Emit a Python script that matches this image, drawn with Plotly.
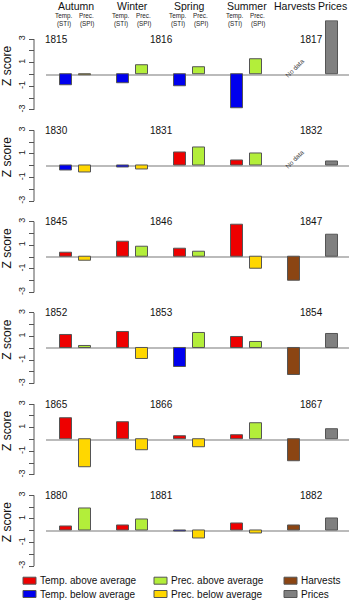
import plotly.graph_objects as go

# Erste Jahre der sechs Krisen (jede Zeile: Jahr, Jahr+1, Jahr+2)
start_years = [1815, 1830, 1845, 1852, 1865, 1880]

seasons = ["Autumn", "Winter", "Spring", "Summer"]

# Z-Werte je Jahreszeit, eine Zahl pro Zeile
autumn_temp = [-0.89, -0.42, 0.40, 1.10, 1.83, 0.37]
autumn_prec = [-0.05, -0.56, -0.34, 0.17, -2.37, 1.85]
winter_temp = [-0.75, -0.17, 1.27, 1.41, 1.49, 0.49]
winter_prec = [0.75, -0.31, 0.91, -0.90, -0.88, 0.94]
spring_temp = [-1.03, 1.13, 0.68, -1.58, 0.31, -0.03]
spring_prec = [0.58, 1.58, 0.48, 1.27, -0.68, -0.68]
summer_temp = [-2.86, 0.48, 2.77, 0.93, 0.37, 0.63]
summer_prec = [1.28, 1.08, -0.96, 0.56, 1.35, -0.26]
harvests = [None, None, -2.00, -2.28, -1.86, 0.46]
prices = [4.55, 0.37, 1.87, 1.24, 0.85, 1.02]

legend_labels = ["Temp. above average", "Prec. above average", "Harvests",
                 "Temp. below average", "Prec. below average", "Prices"]

RED, BLUE, GREEN, GOLD = "#EE0000", "#0000EE", "#B3EE3A", "#FFD700"
BROWN, GREY = "#8B4513", "#808080"
legend_colors = [RED, GREEN, BROWN, BLUE, GOLD, GREY]

W, H = 349, 600
FONT = "Arial, Liberation Sans, sans-serif"
u = 11.8            # Pixel pro Z-Einheit
y_lo, y_hi = -3.15, 4.6
px_slot = 19        # Pixel pro Balkenplatz
x0_px, plot_left_px, axis_px = 66, 46, 34
x_rng = [-(x0_px - plot_left_px) / px_slot, (W - x0_px) / px_slot]

temp_rows = [autumn_temp, winter_temp, spring_temp, summer_temp]
prec_rows = [autumn_prec, winter_prec, spring_prec, summer_prec]

fig = go.Figure()
layout = {}
annotations = []
shapes = []

for k, year in enumerate(start_years):
    n = "" if k == 0 else str(k + 1)
    xs, ys, cols = [], [], []
    for s in range(4):
        t = temp_rows[s][k]
        p = prec_rows[s][k]
        xs += [3 * s, 3 * s + 1]
        ys += [t, p]
        cols += [RED if t >= 0 else BLUE, GREEN if p >= 0 else GOLD]
    xs += [12, 14]
    ys += [harvests[k], prices[k]]
    cols += [BROWN, GREY]

    fig.add_trace(go.Bar(
        x=xs, y=ys, width=0.63, marker=dict(color=cols, line=dict(color="#555555", width=1)),
        xaxis="x" + n, yaxis="y" + n, showlegend=False, hoverinfo="skip"))

    z = 74.5 + 91.25 * k
    top = z - y_hi * u
    bot = z - y_lo * u
    layout["xaxis" + n] = dict(domain=[plot_left_px / W, 1], range=x_rng, visible=False,
                               anchor="y" + n, fixedrange=True)
    layout["yaxis" + n] = dict(
        domain=[1 - bot / H, 1 - top / H], range=[y_lo, y_hi], anchor="free",
        position=axis_px / W, showgrid=False, showline=False,
        zeroline=True, zerolinecolor="#BBBBBB", zerolinewidth=1.5,
        tickvals=[-3, -2, -1, 0, 1, 2, 3], ticktext=["-3", "", "-1", "", "1", "", "3"],
        ticks="outside", ticklen=5, tickcolor="#555555", tickangle=-90,
        tickfont=dict(size=9, color="#222222", family=FONT),
        title=dict(text="Z score", font=dict(size=12, color="#111111", family=FONT), standoff=3),
        fixedrange=True)
    shapes.append(dict(type="line", xref="paper", yref="y" + n, x0=axis_px / W, x1=axis_px / W,
                       y0=-3, y1=3, line=dict(color="#555555", width=1)))

    for yr, xpos in zip([year, year + 1, year + 2], [-0.5, 5.0, 12.9]):
        annotations.append(dict(text=str(yr), x=xpos, y=3, xref="x" + n, yref="y" + n,
                                showarrow=False, yanchor="middle",
                                font=dict(size=10, color="#111111", family=FONT)))
    if harvests[k] is None:
        annotations.append(dict(text="No data", x=12, y=0.55, xref="x" + n, yref="y" + n,
                                showarrow=False, textangle=-45, yanchor="middle",
                                font=dict(size=6.5, color="#333333", family=FONT)))

# Kopfzeile
head = dict(xref="x", yref="paper", showarrow=False, xanchor="center", yanchor="middle",
            borderpad=0)
big = dict(size=10.5, color="#111111", family=FONT)
small = dict(size=6.3, color="#222222", family=FONT)
for s, name in enumerate(seasons):
    annotations.append(dict(text=name, x=3 * s + 0.5, y=1 - 6 / H, font=big, **head))
    for dx, top_line, bottom_line in [(-0.13, "Temp.", "(STI)"), (1.08, "Prec.", "(SPI)")]:
        annotations.append(dict(text=top_line, x=3 * s + dx, y=1 - 15.8 / H, font=small, **head))
        annotations.append(dict(text=bottom_line, x=3 * s + dx, y=1 - 23.5 / H, font=small, **head))
annotations.append(dict(text="Harvests", x=12, y=1 - 6 / H, font=big, **head))
annotations.append(dict(text="Prices", x=14, y=1 - 6 / H, font=big, **head))

# Legende unten
col_px = [23, 154, 284]
row_px = [580.7, 594]
for i, (lab, col) in enumerate(zip(legend_labels, legend_colors)):
    cx = col_px[i % 3]
    ry = row_px[i // 3]
    shapes.append(dict(type="rect", xref="paper", yref="paper",
                       x0=cx / W, x1=(cx + 13) / W, y0=1 - (ry + 3.5) / H, y1=1 - (ry - 3.5) / H,
                       fillcolor=col, line=dict(color="#555555", width=1)))
    annotations.append(dict(text=lab, x=(cx + 16) / W, y=1 - ry / H, xref="paper", yref="paper",
                            xanchor="left", yanchor="middle", showarrow=False, borderpad=0,
                            font=dict(size=10, color="#111111", family=FONT)))

fig.update_layout(
    width=W, height=H, margin=dict(l=0, r=0, t=0, b=0),
    paper_bgcolor="white", plot_bgcolor="white",
    bargap=0, annotations=annotations, shapes=shapes, showlegend=False,
    font=dict(family=FONT), **layout)

# Seitenrand des Browsers entfernen, damit die Grafik bei (0, 0) beginnt
fig.write_html("out.html", config={"displayModeBar": False},
               post_script="document.body.style.margin = '0';")
